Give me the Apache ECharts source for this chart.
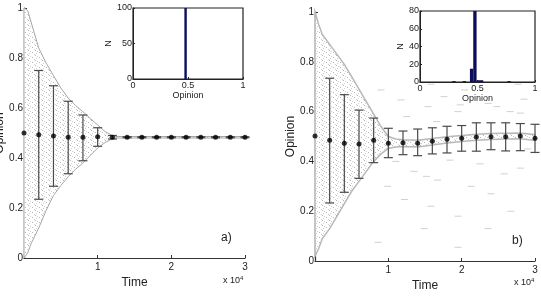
<!DOCTYPE html>
<html>
<head>
<meta charset="utf-8">
<script src="https://cdn.jsdelivr.net/npm/echarts@6/dist/echarts.min.js"></script>
<style>
  html, body { margin: 0; padding: 0; background: #fff; }
  #chart { width: 541px; height: 304px; }
</style>
</head>
<body>
<div id="chart"></div>
<script>
// sampled times for the mean / spread markers
const times = [0, 2000, 4000, 6000, 8000, 10000, 12000, 14000, 16000, 18000, 20000, 22000, 24000, 26000, 28000, 30000];

// panel a
const meanA = [0.5, 0.493, 0.488, 0.483, 0.483, 0.485, 0.483, 0.483, 0.483, 0.483, 0.483, 0.483, 0.483, 0.483, 0.483, 0.483];
const lowA  = [null, 0.235, 0.287, 0.337, 0.389, 0.447, 0.476, 0.481, 0.481, 0.481, 0.481, 0.481, 0.481, 0.481, 0.481, 0.481];
const highA = [null, 0.75, 0.689, 0.627, 0.572, 0.521, 0.490, 0.485, 0.485, 0.485, 0.485, 0.485, 0.485, 0.485, 0.485, 0.485];

// panel b
const meanB = [0.502, 0.485, 0.473, 0.470, 0.485, 0.473, 0.475, 0.473, 0.481, 0.489, 0.493, 0.498, 0.499, 0.499, 0.502, 0.493];
const lowB  = [null, 0.233, 0.276, 0.332, 0.395, 0.415, 0.427, 0.423, 0.430, 0.434, 0.441, 0.441, 0.447, 0.442, 0.443, 0.436];
const highB = [null, 0.734, 0.668, 0.606, 0.574, 0.533, 0.522, 0.530, 0.535, 0.541, 0.544, 0.555, 0.555, 0.555, 0.552, 0.549];

// envelope of the opinion cloud
const cloudTimesA = [0, 500, 1000, 2000, 3000, 4000, 5000, 6000, 7000, 8000, 9000, 10000, 11000, 12000, 12500, 30000];
const cloudTopA   = [1.0, 0.99, 0.94, 0.84, 0.78, 0.73, 0.68, 0.64, 0.61, 0.585, 0.558, 0.532, 0.506, 0.49, 0.486, 0.486];
const cloudBotA   = [0.0, 0.02, 0.06, 0.12, 0.19, 0.25, 0.29, 0.325, 0.355, 0.38, 0.41, 0.44, 0.462, 0.477, 0.480, 0.480];

const cloudTimesB = [0, 500, 1000, 2000, 3000, 4000, 5000, 6000, 7000, 8000, 9000, 10000, 11000, 12000, 14000, 16000, 18000, 20000, 22000, 24000, 26000, 28000, 30000];
const cloudTopB   = [1.0, 0.95, 0.91, 0.87, 0.83, 0.79, 0.74, 0.69, 0.64, 0.59, 0.54, 0.50, 0.49, 0.487, 0.485, 0.492, 0.499, 0.504, 0.509, 0.512, 0.513, 0.514, 0.507];
const cloudBotB   = [0.02, 0.05, 0.09, 0.13, 0.18, 0.23, 0.28, 0.32, 0.36, 0.40, 0.43, 0.452, 0.458, 0.46, 0.458, 0.466, 0.474, 0.48, 0.485, 0.488, 0.49, 0.491, 0.484];

// stray agents in panel b (time, opinion)
const strayB = [
  [9000, 0.687], [11700, 0.647], [15400, 0.62], [19500, 0.60], [23600, 0.633], [26600, 0.60],
  [28500, 0.65], [20400, 0.687], [17600, 0.66], [15800, 0.71], [27700, 0.71], [19800, 0.627],
  [24800, 0.62], [28000, 0.594], [16600, 0.56], [22500, 0.39], [18400, 0.405], [28000, 0.373],
  [15200, 0.34], [16700, 0.325], [21300, 0.30], [25800, 0.35], [9900, 0.30], [12200, 0.247],
  [15800, 0.22], [19500, 0.18], [23600, 0.13], [26700, 0.20], [14900, 0.13], [8600, 0.075],
  [19500, 0.055], [12500, 0.58], [13500, 0.36], [24000, 0.27], [29000, 0.45], [11000, 0.40]
];

// inset histograms: [binStart, binEnd, count]
const histA = [[0.467, 0.489, 100]];
const histB = [[0.28, 0.31, 1], [0.37, 0.40, 1], [0.434, 0.463, 15], [0.463, 0.492, 80], [0.492, 0.521, 2], [0.521, 0.55, 2], [0.76, 0.79, 1]];

const axisCol = '#333';
const font = 'Liberation Sans, Arial, sans-serif';

// speckle tile for the cloud
const tile = document.createElement('canvas');
tile.width = 7; tile.height = 5;
(function () {
  const c = tile.getContext('2d');
  c.fillStyle = '#fff';
  c.fillRect(0, 0, 7, 5);
  c.fillStyle = 'rgba(110,110,110,0.5)';
  c.fillRect(0, 0, 1, 1);
  c.fillRect(4, 2, 1, 1);
  c.fillStyle = 'rgba(140,140,140,0.4)';
  c.fillRect(2, 1, 1, 1);
  c.fillRect(6, 4, 1, 1);
  c.fillRect(1, 3, 1, 1);
})();

function zip(a, b) { return a.map((v, i) => [v, b[i]]); }

function cloudSeries(idx, ts, top, bot, edge, edgeW) {
  return {
    type: 'custom', xAxisIndex: idx, yAxisIndex: idx, z: 1,
    data: [[ts[0], top[0]]],
    renderItem: function (params, api) {
      const pts = [];
      for (let i = 0; i < ts.length; i++) pts.push(api.coord([ts[i], top[i]]));
      for (let i = ts.length - 1; i >= 0; i--) pts.push(api.coord([ts[i], bot[i]]));
      return {
        type: 'polygon',
        shape: { points: pts },
        style: { fill: { image: tile, repeat: 'repeat' }, stroke: edge, lineWidth: edgeW }
      };
    }
  };
}

function errorSeries(idx, low, high) {
  const rows = [];
  times.forEach((t, i) => { if (low[i] != null) rows.push([t, low[i], high[i]]); });
  return {
    type: 'custom', xAxisIndex: idx, yAxisIndex: idx, z: 3,
    encode: { x: 0, y: [1, 2] },
    data: rows,
    renderItem: function (params, api) {
      const lo = api.coord([api.value(0), api.value(1)]);
      const hi = api.coord([api.value(0), api.value(2)]);
      const w = 4.5;
      const st = { stroke: '#4a4a4a', lineWidth: 1.2 };
      return {
        type: 'group',
        children: [
          { type: 'line', shape: { x1: lo[0], y1: lo[1], x2: hi[0], y2: hi[1] }, style: st },
          { type: 'line', shape: { x1: lo[0] - w, y1: lo[1], x2: lo[0] + w, y2: lo[1] }, style: st },
          { type: 'line', shape: { x1: hi[0] - w, y1: hi[1], x2: hi[0] + w, y2: hi[1] }, style: st }
        ]
      };
    }
  };
}

function histSeries(idx, bins) {
  return {
    type: 'custom', xAxisIndex: idx, yAxisIndex: idx, z: 12,
    encode: { x: [0, 1], y: 2 },
    data: bins,
    renderItem: function (params, api) {
      const a = api.coord([api.value(0), api.value(2)]);
      const b = api.coord([api.value(1), 0]);
      return {
        type: 'rect',
        shape: { x: a[0], y: a[1], width: b[0] - a[0], height: b[1] - a[1] },
        style: { fill: '#0d0d5c' }
      };
    }
  };
}

function mainX(idx) {
  return {
    gridIndex: idx, type: 'value', min: 0, max: 30000, interval: 10000,
    name: 'Time', nameLocation: 'middle', nameGap: 18,
    nameTextStyle: { fontSize: 12, color: '#222', fontFamily: font, verticalAlign: 'middle' },
    axisLine: { lineStyle: { color: axisCol, width: 1.2 } },
    axisTick: { inside: true, length: 3, lineStyle: { color: axisCol } },
    axisLabel: { showMinLabel: false, fontSize: 10, color: '#222', fontFamily: font, margin: 4,
      formatter: v => String(v / 10000) },
    splitLine: { show: false }
  };
}

function mainY(idx, gap) {
  return {
    gridIndex: idx, type: 'value', min: 0, max: 1, interval: 0.2,
    name: 'Opinion', nameLocation: 'middle', nameGap: gap,
    nameTextStyle: { fontSize: 12, color: '#222', fontFamily: font, verticalAlign: 'middle' },
    axisLine: { show: true, lineStyle: { color: axisCol, width: 1.2 } },
    axisTick: { show: true, inside: true, length: 3, lineStyle: { color: axisCol } },
    axisLabel: { fontSize: 10, color: '#222', fontFamily: font, margin: 1,
      formatter: v => String(Math.round(v * 10) / 10) },
    splitLine: { show: false }
  };
}

function insetX(idx, gap) {
  return {
    gridIndex: idx, type: 'value', min: 0, max: 1, interval: 0.5, z: 13,
    name: 'Opinion', nameLocation: 'middle', nameGap: gap,
    nameTextStyle: { fontSize: 9, color: '#222', fontFamily: font, verticalAlign: 'middle' },
    axisLine: { lineStyle: { color: '#222' } },
    axisTick: { inside: true, length: 2, lineStyle: { color: '#222' } },
    axisLabel: { fontSize: 9, color: '#222', fontFamily: font, margin: 2 },
    splitLine: { show: false }
  };
}

function insetY(idx, max, step, gap) {
  return {
    gridIndex: idx, type: 'value', min: 0, max: max, interval: step, z: 13,
    name: 'N', nameLocation: 'middle', nameGap: gap,
    nameTextStyle: { fontSize: 9, color: '#222', fontFamily: font, verticalAlign: 'middle' },
    axisLine: { show: true, lineStyle: { color: '#222' } },
    axisTick: { show: true, inside: true, length: 2, lineStyle: { color: '#222' } },
    axisLabel: { fontSize: 9, color: '#222', fontFamily: font, margin: 1 },
    splitLine: { show: false }
  };
}

const chart = echarts.init(document.getElementById('chart'), null, { renderer: 'canvas' });

chart.setOption({
  animation: false,
  backgroundColor: '#fff',
  grid: [
    { left: 24, top: 8, width: 221, height: 250, outerBoundsMode: 'none' },
    { left: 315, top: 12, width: 220, height: 249, outerBoundsMode: 'none' },
    { left: 133, top: 8, width: 110, height: 71, outerBoundsMode: 'none', show: true, backgroundColor: '#fff', borderColor: '#222', borderWidth: 1.2, z: 10 },
    { left: 420, top: 11, width: 115, height: 71, outerBoundsMode: 'none', show: true, backgroundColor: '#fff', borderColor: '#222', borderWidth: 1.2, z: 10 }
  ],
  xAxis: [mainX(0), mainX(1), insetX(2, 15), insetX(3, 16)],
  yAxis: [mainY(0, 22), mainY(1, 24), insetY(2, 100, 50, 20), insetY(3, 80, 20, 19)],
  series: [
    cloudSeries(0, cloudTimesA, cloudTopA, cloudBotA, '#a8a8a8', 1),
    errorSeries(0, lowA, highA),
    { type: 'scatter', xAxisIndex: 0, yAxisIndex: 0, z: 4, clip: false, symbolSize: 5,
      itemStyle: { color: '#000' }, data: zip(times, meanA) },

    { type: 'scatter', xAxisIndex: 1, yAxisIndex: 1, z: 1, symbol: 'rect', symbolSize: [7, 1],
      itemStyle: { color: '#c4c4c4' }, data: strayB },
    cloudSeries(1, cloudTimesB, cloudTopB, cloudBotB, '#b8b8b8', 1.5),
    errorSeries(1, lowB, highB),
    { type: 'scatter', xAxisIndex: 1, yAxisIndex: 1, z: 4, clip: false, symbolSize: 5,
      itemStyle: { color: '#000' }, data: zip(times, meanB) },

    histSeries(2, histA),
    histSeries(3, histB)
  ],
  graphic: [
    { type: 'text', left: 221, top: 232, style: { text: 'a)', fontSize: 12, fill: '#222', fontFamily: font } },
    { type: 'text', left: 512, top: 235, style: { text: 'b)', fontSize: 12, fill: '#222', fontFamily: font } },
    { type: 'text', left: 223, top: 275, style: { text: 'x 10{s|4}', fontSize: 9, fill: '#222', fontFamily: font,
      rich: { s: { fontSize: 6, verticalAlign: 'top', padding: [0, 0, 6, 0], fill: '#222', fontFamily: font } } } },
    { type: 'text', left: 514, top: 277, style: { text: 'x 10{s|4}', fontSize: 9, fill: '#222', fontFamily: font,
      rich: { s: { fontSize: 6, verticalAlign: 'top', padding: [0, 0, 6, 0], fill: '#222', fontFamily: font } } } }
  ]
});
</script>
</body>
</html>
